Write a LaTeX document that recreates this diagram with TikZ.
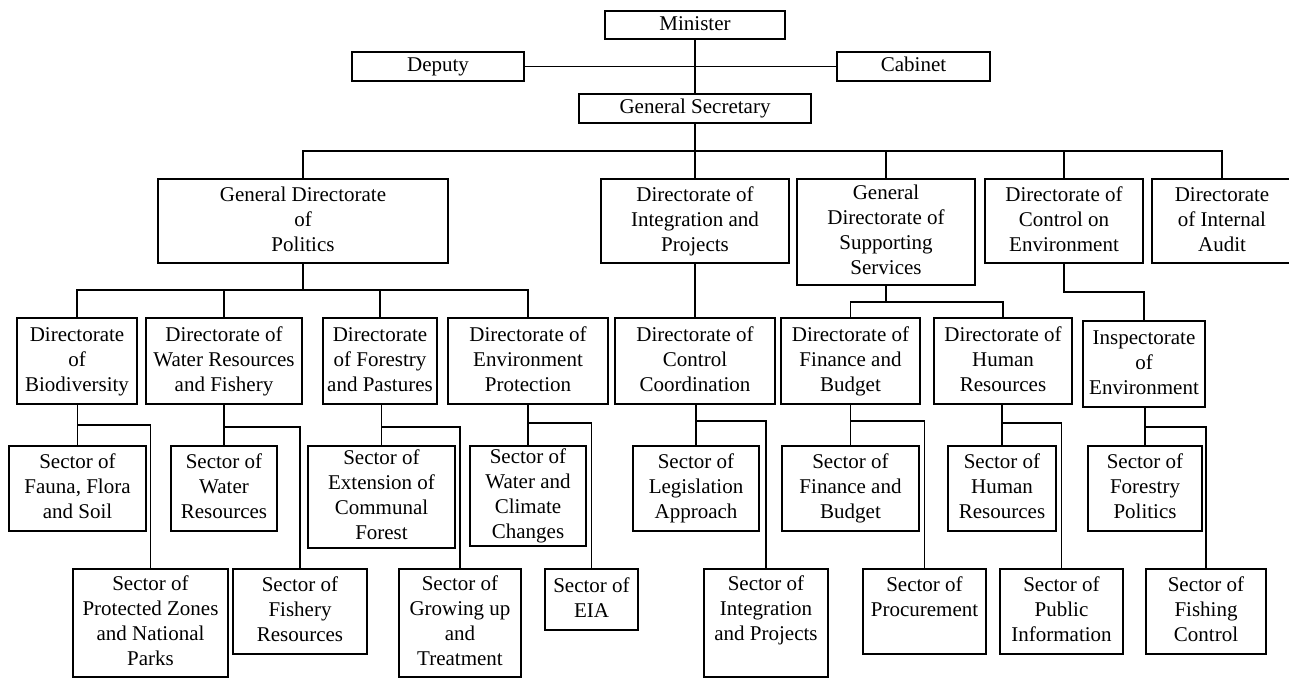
\documentclass[tikz,border=0pt]{standalone}
\usepackage{fontspec}
\setmainfont{Liberation Serif}
% box given by left, top, right, bottom (y grows downwards)
\newcommand\orgbox[6]{%
  \node[box, minimum width={(#4-#2)*1pt}, minimum height={(#5-#3)*1pt}]
    (#1) at ({(#2+#4)/2},{(#3+#5)/2}) {#6};}
% parent with a near child straight below and a far child reached by an elbow
\newcommand\branch[5]{%
  \coordinate (#4) at (0,#5);
  \draw[link] (#2.north) -- (#2.north |- #1.south);
  \draw[link] (#4 -| #2.north) -| (#3.north);}
\begin{document}
\begin{tikzpicture}[x=1pt,y=-1pt,
  box/.style={draw, line width=1.8pt, inner sep=0pt, align=center,
              font=\fontsize{21}{25}\selectfont},
  link/.style={line width=1.8pt}]
\useasboundingbox (0,0) rectangle (1289,678);

% top management
\orgbox{min}{605}{11}{785}{39}{\strut Minister}
\orgbox{dep}{352}{52}{524}{81}{\strut Deputy}
\orgbox{cab}{837}{52}{990}{81}{\strut Cabinet}
\orgbox{gs}{579}{94}{811}{123}{\strut General Secretary}

% general directorates and directorates
\orgbox{gdp}{158}{179}{448}{263}{\strut General Directorate\\\strut of\\\strut Politics}
\orgbox{dip}{601}{179}{789}{263}{\strut Directorate of\\\strut Integration and\\\strut Projects}
\orgbox{gdss}{797}{179}{975}{285}{\strut General\\\strut Directorate of\\\strut Supporting\\\strut Services}
\orgbox{dce}{985}{179}{1143}{263}{\strut Directorate of\\\strut Control on\\\strut Environment}
\orgbox{dia}{1152}{179}{1292}{263}{\strut Directorate\\\strut of Internal\\\strut Audit}

% directorates
\orgbox{bio}{17}{318}{137}{404}{\strut Directorate\\\strut of\\\strut Biodiversity}
\orgbox{wrf}{146}{318}{302}{404}{\strut Directorate of\\\strut Water Resources\\\strut and Fishery}
\orgbox{fp}{323}{318}{437}{404}{\strut Directorate\\\strut of Forestry\\\strut and Pastures}
\orgbox{ep}{448}{318}{608}{404}{\strut Directorate of\\\strut Environment\\\strut Protection}
\orgbox{cc}{615}{318}{775}{404}{\strut Directorate of\\\strut Control\\\strut Coordination}
\orgbox{fb}{781}{318}{920}{404}{\strut Directorate of\\\strut Finance and\\\strut Budget}
\orgbox{hr}{934}{318}{1072}{404}{\strut Directorate of\\\strut Human\\\strut Resources}
\orgbox{insp}{1083}{321}{1205}{407}{\strut Inspectorate\\\strut of\\\strut Environment}

% sectors, upper row
\orgbox{fauna}{9}{446}{146}{531}{\strut Sector of\\\strut Fauna, Flora\\\strut and Soil}
\orgbox{water}{171}{446}{277}{531}{\strut Sector of\\\strut Water\\\strut Resources}
\orgbox{comm}{308}{446}{455}{548}{\strut Sector of\\\strut Extension of\\\strut Communal\\\strut Forest}
\orgbox{wcc}{470}{446}{586}{546}{\strut Sector of\\\strut Water and\\\strut Climate\\\strut Changes}
\orgbox{leg}{633}{446}{759}{531}{\strut Sector of\\\strut Legislation\\\strut Approach}
\orgbox{sfb}{782}{446}{919}{531}{\strut Sector of\\\strut Finance and\\\strut Budget}
\orgbox{shr}{948}{446}{1056}{531}{\strut Sector of\\\strut Human\\\strut Resources}
\orgbox{sfp}{1088}{446}{1202}{531}{\strut Sector of\\\strut Forestry\\\strut Politics}

% sectors, lower row
\orgbox{prot}{73}{569}{228}{677}{\strut Sector of\\\strut Protected Zones\\\strut and National\\\strut Parks}
\orgbox{fish}{233}{569}{367}{654}{\strut Sector of\\\strut Fishery\\\strut Resources}
\orgbox{grow}{399}{569}{521}{677}{\strut Sector of\\\strut Growing up\\\strut and\\\strut Treatment}
\orgbox{eia}{545}{569}{638}{630}{\strut Sector of\\\strut EIA}
\orgbox{sip}{704}{569}{828}{677}{\strut Sector of\\\strut Integration\\\strut and Projects\\\strut}
\orgbox{proc}{863}{569}{986}{654}{\strut Sector of\\\strut Procurement\\\strut}
\orgbox{pub}{1000}{569}{1123}{654}{\strut Sector of\\\strut Public\\\strut Information}
\orgbox{fc}{1146}{569}{1266}{654}{\strut Sector of\\\strut Fishing\\\strut Control}

% top connectors
\draw[link] (min.south) -- (gs.north);
\draw[link] (dep.east) -- (cab.west);

% general secretary to the directorates
\coordinate (bustwo) at (0,151);
\draw[link] (gs.south) -- (dip.north);
\draw[link] (gdp.north) -- (gdp.north |- bustwo) -- (dia.north |- bustwo) -- (dia.north);
\draw[link] (gdss.north) -- (gdss.north |- bustwo);
\draw[link] (dce.north) -- (dce.north |- bustwo);

% politics directorates
\coordinate (busthree) at (0,290);
\draw[link] (gdp.south) -- (gdp.south |- busthree);
\draw[link] (bio.north) -- (bio.north |- busthree) -- (ep.north |- busthree) -- (ep.north);
\draw[link] (wrf.north) -- (wrf.north |- busthree);
\draw[link] (fp.north) -- (fp.north |- busthree);

\draw[link] (cc.north) -- (cc.north |- dip.south);

\coordinate (busfour) at (0,302);
\draw[link] (gdss.south) -- (gdss.south |- busfour);
\draw[link] (fb.north) -- (fb.north |- busfour) -- (hr.north |- busfour) -- (hr.north);

\coordinate (dcejoin) at (0,292);
\draw[link] (dce.south) -- (dce.south |- dcejoin) -| (insp.north);

% sectors
\branch{bio}{fauna}{prot}{jbio}{425}
\branch{wrf}{water}{fish}{jwrf}{427}
\branch{fp}{comm}{grow}{jfp}{427}
\branch{ep}{wcc}{eia}{jep}{423}
\branch{cc}{leg}{sip}{jcc}{421}
\branch{fb}{sfb}{proc}{jfb}{421}
\branch{hr}{shr}{pub}{jhr}{423}
\branch{insp}{sfp}{fc}{jinsp}{427}
\end{tikzpicture}
\end{document}
